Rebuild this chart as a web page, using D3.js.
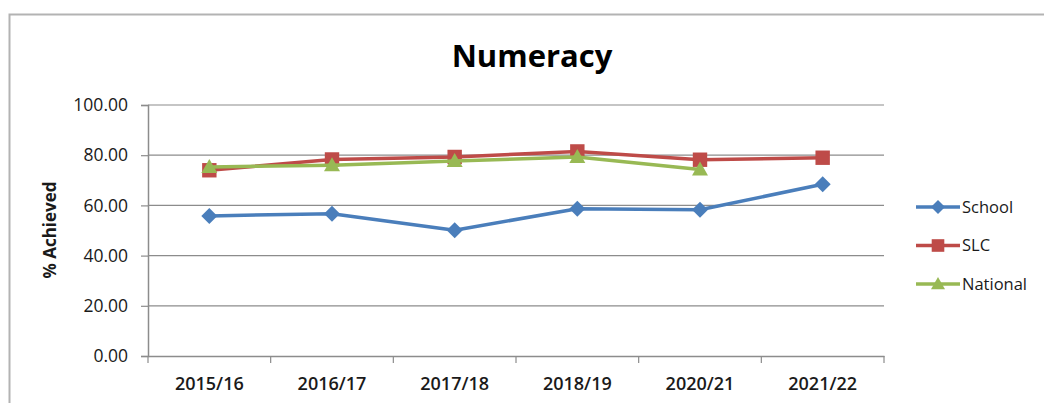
<!DOCTYPE html>
<html>
<head>
<meta charset="utf-8">
<script src="https://cdn.jsdelivr.net/npm/d3@7"></script>
<style>
  body { margin: 0; background: #fff; }
  svg { display: block; font-family: "Open Sans", "Liberation Sans", sans-serif; }
</style>
</head>
<body>
<svg id="chart" width="1044" height="403"></svg>
<script>
const years = ["2015/16", "2016/17", "2017/18", "2018/19", "2020/21", "2021/22"];
const school = [55.8, 56.7, 50.1, 58.7, 58.3, 68.4];
const slc = [74.0, 78.3, 79.3, 81.5, 78.2, 79.0];
const national = [75.3, 76.0, 77.7, 79.3, 74.3, null];
const yTicks = [0, 20, 40, 60, 80, 100];

const series = [
  { name: "School", values: school, color: "#4a7ebb", shape: "diamond" },
  { name: "SLC", values: slc, color: "#be4b48", shape: "square" },
  { name: "National", values: national, color: "#98b954", shape: "triangle" }
];

const svg = d3.select("#chart");

// outer chart border
svg.append("rect")
  .attr("x", 9.5).attr("y", 14.5)
  .attr("width", 1060).attr("height", 420)
  .attr("fill", "none")
  .attr("stroke", "#b3b3b3")
  .attr("stroke-width", 2);

const plot = { left: 148, right: 884, top: 105, bottom: 356 };

const x = d3.scaleBand().domain(years).range([plot.left, plot.right]);
const y = d3.scaleLinear().domain([0, 100]).range([plot.bottom, plot.top]);

// --- GRIDLINES ---
svg.append("g")
  .selectAll("line")
  .data(yTicks.filter(d => d > 0))
  .join("line")
  .attr("x1", plot.left).attr("x2", plot.right)
  .attr("y1", d => y(d)).attr("y2", d => y(d))
  .attr("stroke", "#8c8c8c")
  .attr("stroke-width", 1.2);

// --- Y AXIS ---
const yAxis = svg.append("g")
  .attr("transform", `translate(${plot.left},0)`)
  .call(d3.axisLeft(y).tickValues(yTicks).tickFormat(d3.format(".2f")).tickSize(7).tickPadding(13));
yAxis.select(".domain").attr("stroke", "#8c8c8c").attr("stroke-width", 1.5);
yAxis.selectAll(".tick line").attr("stroke", "#8c8c8c").attr("stroke-width", 1.2);
yAxis.selectAll("text").attr("font-size", 17.5).attr("fill", "#1a1a1a")
  .attr("font-family", "'Open Sans', sans-serif");

// --- X AXIS ---
const xAxis = svg.append("g")
  .attr("transform", `translate(0,${plot.bottom})`)
  .call(d3.axisBottom(x).tickSize(0).tickPadding(21));
xAxis.select(".domain").attr("stroke", "#8c8c8c").attr("stroke-width", 1.5);
xAxis.selectAll("text").attr("font-size", 18).attr("font-weight", 600).attr("fill", "#1a1a1a")
  .attr("font-family", "'Open Sans', sans-serif");

// category boundary ticks
const bounds = years.map(d => x(d)).concat([plot.right]);
svg.append("g")
  .selectAll("line")
  .data(bounds)
  .join("line")
  .attr("x1", d => d).attr("x2", d => d)
  .attr("y1", plot.bottom).attr("y2", plot.bottom + 7)
  .attr("stroke", "#8c8c8c")
  .attr("stroke-width", 1.2);

// --- TITLE ---
svg.append("text")
  .attr("x", 532).attr("y", 67)
  .attr("text-anchor", "middle")
  .attr("font-size", 31)
  .attr("font-weight", 700)
  .attr("fill", "#000")
  .text("Numeracy");

// y axis label
svg.append("text")
  .attr("transform", `translate(56,230) rotate(-90)`)
  .attr("text-anchor", "middle")
  .attr("font-size", 17)
  .attr("font-weight", 700)
  .attr("fill", "#1a1a1a")
  .text("% Achieved");

// --- MARKERS ---
function marker(sel, shape, color, s) {
  if (shape === "diamond") {
    sel.append("path").attr("d", `M0,${-s}L${s},0L0,${s}L${-s},0Z`).attr("fill", color);
  } else if (shape === "square") {
    sel.append("rect").attr("x", -s * 0.9).attr("y", -s * 0.9)
      .attr("width", s * 1.8).attr("height", s * 1.8).attr("fill", color);
  } else {
    sel.append("path").attr("d", `M0,${-s}L${s},${s * 0.75}L${-s},${s * 0.75}Z`).attr("fill", color);
  }
}

const cx = d => x(d) + x.bandwidth() / 2;

// --- LINES ---
const lineGen = d3.line()
  .defined(d => d.v != null)
  .x(d => cx(d.year))
  .y(d => y(d.v));

series.forEach(s => {
  const pts = years.map((yr, i) => ({ year: yr, v: s.values[i] }));
  svg.append("path")
    .datum(pts)
    .attr("d", lineGen)
    .attr("fill", "none")
    .attr("stroke", s.color)
    .attr("stroke-width", 3.5)
    .attr("stroke-linejoin", "round");
  svg.append("g")
    .selectAll("g")
    .data(pts.filter(p => p.v != null))
    .join("g")
    .attr("transform", p => `translate(${cx(p.year)},${y(p.v)})`)
    .each(function () { marker(d3.select(this), s.shape, s.color, 8); });
});

// --- LEGEND ---
const legend = svg.append("g");
series.forEach((s, i) => {
  const ly = 207 + i * 38.5;
  const g = legend.append("g").attr("transform", `translate(0,${ly})`);
  g.append("line")
    .attr("x1", 916).attr("x2", 960)
    .attr("y1", 0).attr("y2", 0)
    .attr("stroke", s.color).attr("stroke-width", 3.5);
  marker(g.append("g").attr("transform", "translate(938,0)"), s.shape, s.color, 7);
  g.append("text")
    .attr("x", 962).attr("y", 0).attr("dy", "0.36em")
    .attr("font-size", 16.5)
    .attr("fill", "#1a1a1a")
    .text(s.name);
});
</script>
</body>
</html>
